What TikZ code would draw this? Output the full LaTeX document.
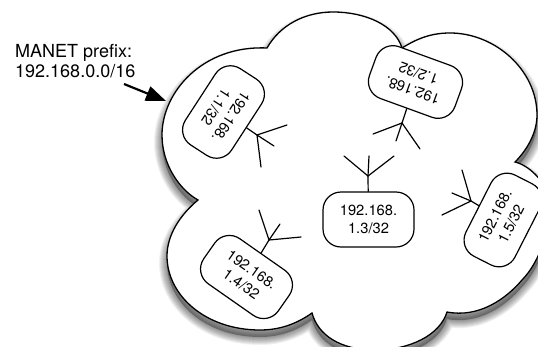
\documentclass[tikz,border=0pt]{standalone}
\usepackage{fontspec}
\setmainfont{TeX Gyre Heros}
\usetikzlibrary{arrows.meta}
\def\cloudpath{(267,48) .. controls (280,25) and (305,12) .. (333,12)
 .. controls (365,12) and (395,25) .. (402,48)
 .. controls (418,38) and (432,33) .. (450,33)
 .. controls (495,33) and (537,70) .. (537,115)
 .. controls (537,133) and (527,150) .. (515,162)
 .. controls (528,165) and (545,180) .. (550,200)
 .. controls (552,225) and (540,262) .. (522,280)
 .. controls (505,300) and (478,318) .. (447,312)
 .. controls (440,335) and (410,350) .. (375,350)
 .. controls (340,350) and (318,335) .. (312,313)
 .. controls (295,325) and (278,330) .. (260,330)
 .. controls (205,330) and (167,295) .. (167,256)
 .. controls (167,235) and (180,215) .. (198,200)
 .. controls (180,190) and (162,165) .. (162,135)
 .. controls (162,92) and (203,45) .. (267,48) -- cycle}
\tikzset{
 x=1pt,y=-1pt,
 hostbox/.style={draw=black,fill=white,rounded corners=18pt,minimum width=91pt,minimum height=55pt,inner sep=0pt,align=center,font=\fontsize{14.7}{18}\selectfont,line width=1.2pt},
 antenna/.style={line width=1.2pt,line cap=round},
 callout/.style={font=\fontsize{18}{20}\selectfont,align=left,anchor=north west,inner sep=0pt},
}
\begin{document}
\begin{tikzpicture}
\useasboundingbox (0,0) rectangle (538,346);
\clip (0,0) rectangle (538,346);
\fill[white] (0,0) rectangle (538,346);
% soft shadow
\path[fill=black,fill opacity=.32,shift={(0,7)}] \cloudpath;
\foreach \w in {16,14,12,10,8,6,4,2}{
 \path[draw=black,draw opacity=.06,line width=\w pt,line join=round,shift={(0,7)}] \cloudpath;
}
\path[fill=white,draw=black,line width=1.3pt,line join=miter] \cloudpath;

\node[callout] (label) at (15,44) {MANET prefix:\\192.168.0.0/16};
\coordinate (arrowstart) at (124,84);
\coordinate (arrowtip) at (166,101);
\draw[line width=2.2pt,-{Triangle[length=20pt,width=15pt]}] (arrowstart) -- (arrowtip);

\node[hostbox,rotate=237] (n1) at (223.5,112) {192.168.\\1.1/32};
\node[hostbox,rotate=160] (n2) at (415.5,82) {192.168.\\1.2/32};
\node[hostbox] (n3) at (368.5,219.5) {192.168.\\1.3/32};
\node[hostbox,rotate=-35] (n4) at (246.5,277) {192.168.\\1.4/32};
\node[hostbox,rotate=63] (n5) at (503,220) {192.168.\\1.5/32};

\foreach \n/\jx/\jy/\ax/\ay/\bx/\by/\cx/\cy in {
 1/257/135/287/125/274/146/261/167,
 2/402/123/373/134/396/141/420/149,
 3/368/176/344/156/369/156/394/156,
 4/269/240/259/210/280/224/301/237,
 5/471/201/462/170/452/193/442/215}{
 \coordinate (j\n) at (\jx,\jy);
 \coordinate (a\n) at (\ax,\ay);
 \coordinate (b\n) at (\bx,\by);
 \coordinate (c\n) at (\cx,\cy);
 \draw[antenna] (n\n) -- (j\n);
 \draw[antenna] (a\n) -- (j\n) -- (c\n);
 \draw[antenna] (b\n) -- (j\n);
}
\end{tikzpicture}
\end{document}
